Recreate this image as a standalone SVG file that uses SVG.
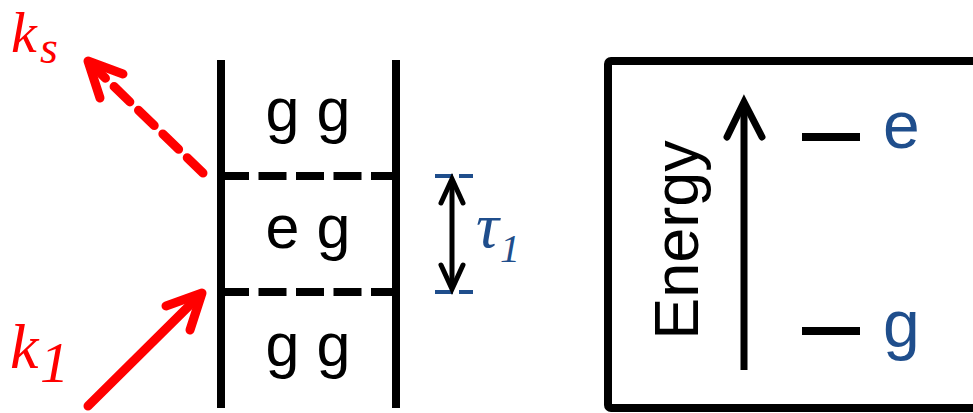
<svg xmlns="http://www.w3.org/2000/svg" width="973" height="413" viewBox="0 0 973 413">
<defs>
<style>
.blk{stroke:#000;fill:none;stroke-width:8}
.red{stroke:#FF0000;fill:none;stroke-width:9;stroke-linecap:round;stroke-linejoin:round}
.blue{stroke:#1F4E8C;stroke-width:4;fill:none}
.sans{font-family:"Liberation Sans",Arial,sans-serif}
.ital{font-family:"Liberation Serif","Times New Roman",serif;font-style:italic}
</style>
</defs>
<rect width="973" height="413" fill="#fff"/>
<g id="ladder">
<line class="blk" x1="221" y1="60" x2="221" y2="408"/>
<line class="blk" x1="396" y1="60" x2="396" y2="408"/>
<line class="blk" x1="221" y1="176" x2="396" y2="176" stroke-dasharray="28 9.5" stroke-width="7"/>
<line class="blk" x1="221" y1="292" x2="396" y2="292" stroke-dasharray="28 9.5" stroke-width="7"/>
<text class="sans" x="308" y="131" font-size="61" text-anchor="middle">g g</text>
<text class="sans" x="308" y="248" font-size="61" text-anchor="middle">e g</text>
<text class="sans" x="308" y="366" font-size="61" text-anchor="middle">g g</text>
</g>
<g id="tau">
<line class="blue" x1="435" y1="176" x2="453" y2="176"/>
<line class="blue" x1="459" y1="176" x2="473" y2="176"/>
<line class="blue" x1="435" y1="292" x2="453" y2="292"/>
<line class="blue" x1="459" y1="292" x2="473" y2="292"/>
<text class="ital" x="476" y="247" font-size="64" fill="#1F4E8C">τ<tspan x="500" y="262" font-size="40">1</tspan></text>
</g>
<g id="ks-label"><text class="ital" x="11" y="52" font-size="58" fill="#FF0000">k<tspan x="40" y="63" font-size="46">s</tspan></text></g>
<g id="k1-label"><text class="ital" x="10" y="368" font-size="64" fill="#FF0000">k<tspan x="40" y="382" font-size="58">1</tspan></text></g>
<g id="energy-box">
<rect x="608" y="61" width="380" height="347" rx="3" fill="none" stroke="#000" stroke-width="8"/>
<text class="sans" transform="translate(698,240) rotate(-90)" font-size="63" text-anchor="middle">Energy</text>
<line class="blk" x1="802" y1="137" x2="860" y2="137" stroke-width="6"/>
<line class="blk" x1="802" y1="331" x2="860" y2="331" stroke-width="6"/>
<text class="sans" x="883" y="148" font-size="66" fill="#1F4E8C">e</text>
<text class="sans" x="883" y="347" font-size="66" fill="#1F4E8C">g</text>
</g>
<g id="connectors">
<line class="red" x1="203" y1="173" x2="95" y2="68" stroke-dasharray="22 12" stroke-linecap="butt"/>
<polyline class="red" points="123,74 88,61 100,98"/>
<line class="red" x1="88" y1="406" x2="198" y2="297" stroke-linecap="butt"/>
<polyline class="red" points="166,306 202,293 190,330"/>
<line x1="744" y1="370" x2="744" y2="104" stroke="#000" stroke-width="7"/>
<polyline points="727,137 744,102 762,137" fill="none" stroke="#000" stroke-width="7" stroke-linecap="round" stroke-linejoin="miter"/>
<line x1="452" y1="182" x2="452" y2="286" stroke="#000" stroke-width="5"/>
<polyline points="441,203 452,179 463,203" fill="none" stroke="#000" stroke-width="5" stroke-linecap="round"/>
<polyline points="441,265 452,289 463,265" fill="none" stroke="#000" stroke-width="5" stroke-linecap="round"/>
</g>
</svg>
